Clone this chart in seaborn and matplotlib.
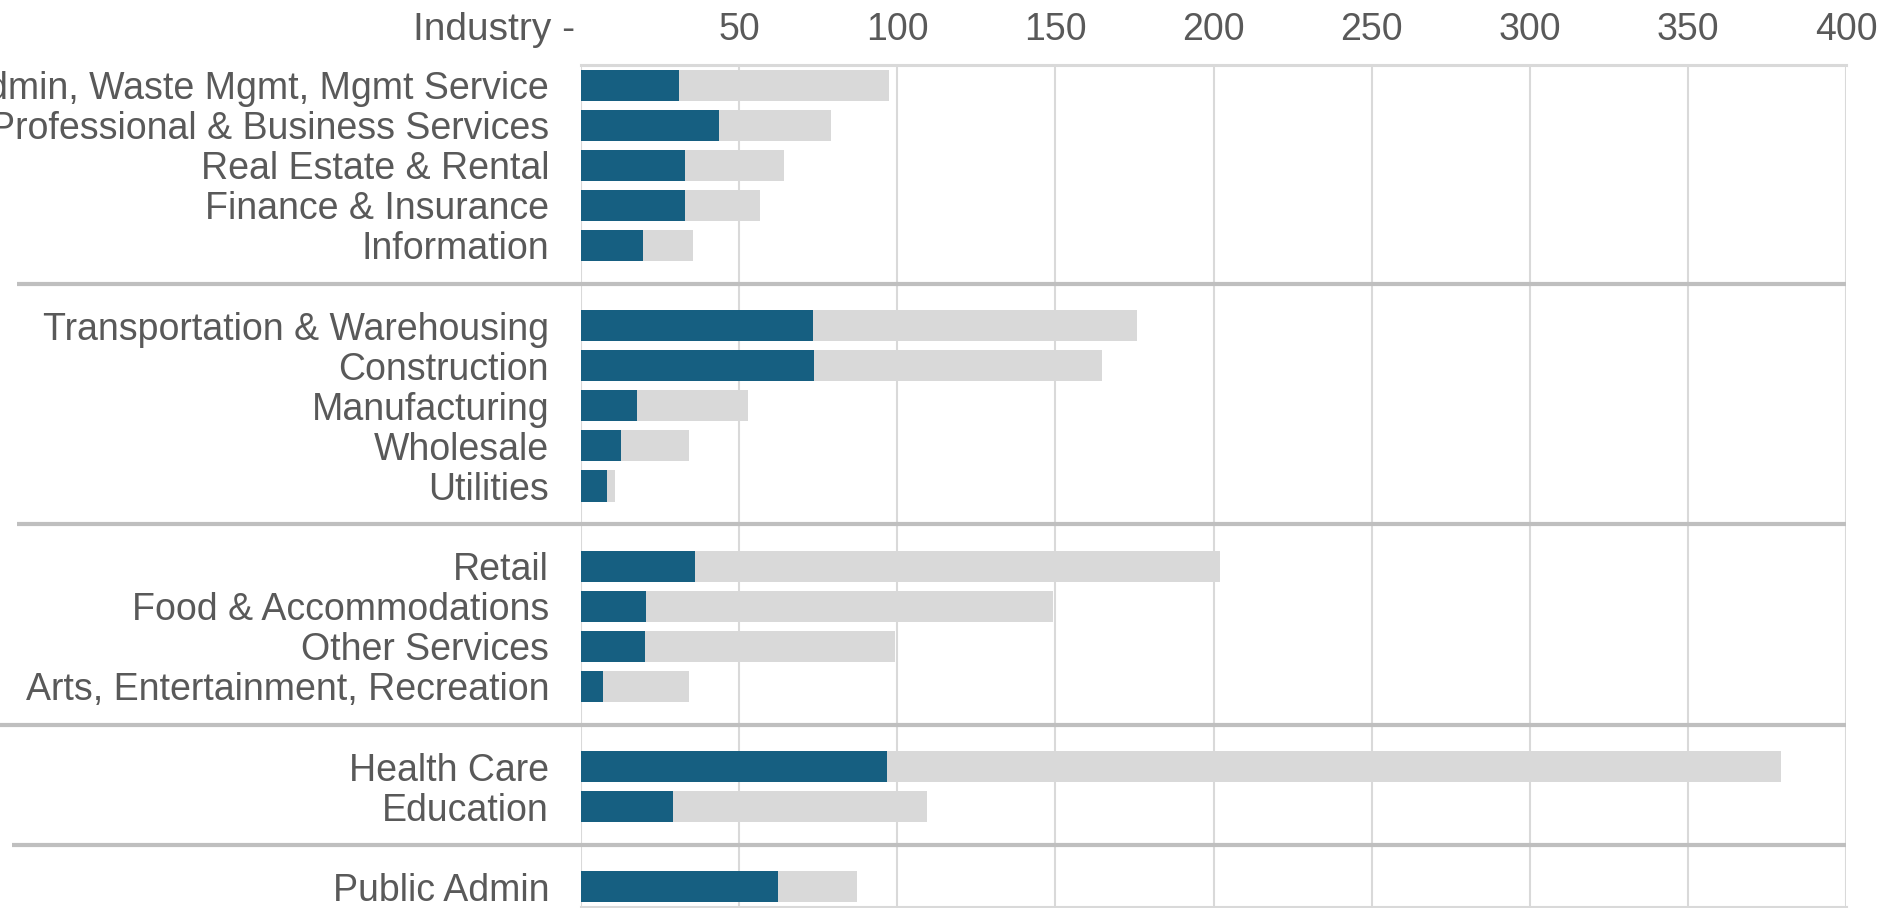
import matplotlib
matplotlib.use("Agg")
import matplotlib.pyplot as plt
import matplotlib.transforms as mtransforms
import pandas as pd
import seaborn as sns

# industries top to bottom, grouped (an empty string marks a gap between groups)
industries = [
    "Admin, Waste Mgmt, Mgmt Service", "Professional & Business Services",
    "Real Estate & Rental", "Finance & Insurance", "Information", "",
    "Transportation & Warehousing", "Construction", "Manufacturing",
    "Wholesale", "Utilities", "",
    "Retail", "Food & Accommodations", "Other Services",
    "Arts, Entertainment, Recreation", "",
    "Health Care", "Education", "",
    "Public Admin",
]
dark_vals = [31, 43.5, 33, 33, 19.5, None,
             73.3, 73.8, 17.7, 12.5, 8.2, None,
             35.9, 20.7, 20.1, 6.8, None,
             96.8, 29.0, None,
             62.4]
total_vals = [97.3, 79.0, 64.3, 56.7, 35.3, None,
              175.7, 164.7, 52.9, 34.0, 10.6, None,
              202.2, 149.1, 99.2, 34.0, None,
              379.6, 109.3, None,
              87.3]
x_ticks = [0, 50, 100, 150, 200, 250, 300, 350, 400]
sep_left_px = [17, 17, 0, 12]

DARK = "#165f81"
GREY = "#d9d9d9"
TEXT = "#595959"

# unique names for the gap rows so the categorical axis keeps them
order = []
gap = 0
for name in industries:
    if name == "":
        gap += 1
        order.append(" " * gap)
    else:
        order.append(name)

df = pd.DataFrame({"industry": order, "dark": dark_vals, "total": total_vals})
df = df[[n.strip() != "" for n in df["industry"]]]

sns.set_style("white")
plt.rcParams["font.family"] = ["Liberation Sans", "DejaVu Sans"]

W, H = 1878, 908
fig = plt.figure(figsize=(W / 100, H / 100), dpi=100)
ax = fig.add_axes([581 / W, 1 / H, 1265 / W, 842 / H])

sns.barplot(data=df, x="total", y="industry", order=order, color=GREY,
            width=0.775, saturation=1, linewidth=0, ax=ax, zorder=2)
sns.barplot(data=df, x="dark", y="industry", order=order, color=DARK,
            width=0.775, saturation=1, linewidth=0, ax=ax, zorder=3)

ax.set_xlim(0, 400)
ax.set_ylim(len(order) - 0.5, -0.5)
ax.set_xticks(x_ticks)
ax.set_xticklabels([""] + [str(t) for t in x_ticks[1:]])
ax.xaxis.tick_top()
ax.tick_params(axis="x", length=0, pad=12, labelsize=27, labelcolor=TEXT)
ax.tick_params(axis="y", length=0, pad=23, labelsize=27, labelcolor=TEXT)
ax.set_xlabel("")
ax.set_ylabel("")
ax.grid(axis="x", color=GREY, linewidth=1.5, zorder=0)
ax.set_axisbelow(True)
for side in ["left", "right"]:
    ax.spines[side].set_visible(False)
for side in ["top", "bottom"]:
    ax.spines[side].set_color(GREY)
    ax.spines[side].set_linewidth(2.2)

# group separators run across the label column too
trans = mtransforms.blended_transform_factory(fig.transFigure, ax.transData)
gap_rows = [i for i, n in enumerate(order) if n.strip() == ""]
for row, left in zip(gap_rows, sep_left_px):
    ax.plot([left / W, 1846 / W], [row - 0.05, row - 0.05], transform=trans,
            color="#bfbfbf", linewidth=3, clip_on=False, zorder=5,
            solid_capstyle="butt")

fig.text(575 / W, 1 - 40 / H, "Industry -", ha="right", va="baseline",
         fontsize=28, color=TEXT)

fig.savefig("out.png", dpi=100)
